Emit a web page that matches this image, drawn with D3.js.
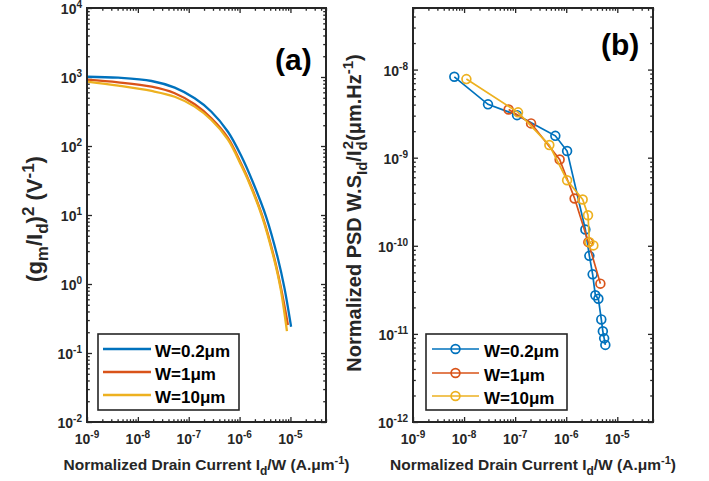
<!DOCTYPE html>
<html><head><meta charset="utf-8">
<script src="https://cdn.jsdelivr.net/npm/d3@7"></script>
<style>
body{margin:0;background:#fff}
text{font-family:"Liberation Sans",Arial,Helvetica,sans-serif;font-weight:bold;fill:#262626}
</style>
</head><body>
<svg id="c" width="709" height="481"></svg>
<script>
// ---------- data ----------
const seriesNames = ["W=0.2μm", "W=1μm", "W=10μm"];
const seriesColors = ["#0072BD", "#D95319", "#EDB120"];

// Panel (a): (gm/Id)^2 vs Id/W
const aX_W02 = [1e-9, 4.11e-9, 1.86e-8, 5.31e-8, 1.31e-7, 2.79e-7, 5.90e-7, 1.08e-6, 1.82e-6, 3.34e-6, 5.64e-6, 7.62e-6, 1.03e-5];
const aY_W02 = [1009, 977, 875, 700, 491, 314, 161, 71.6, 30.1, 9.35, 2.38, 0.875, 0.240];
const aX_W1  = [1e-9, 4.11e-9, 1.86e-8, 5.31e-8, 1.31e-7, 2.79e-7, 5.90e-7, 1.08e-6, 1.56e-6, 2.85e-6, 4.81e-6, 6.52e-6, 8.93e-6];
const aY_W1  = [914, 837, 723, 581, 402, 252, 131, 54.8, 30.1, 9.35, 2.38, 0.875, 0.255];
const aX_W10 = [1e-9, 4.11e-9, 1.86e-8, 5.31e-8, 1.31e-7, 2.79e-7, 5.90e-7, 1.08e-6, 1.52e-6, 2.79e-6, 4.71e-6, 6.37e-6, 8.53e-6];
const aY_W10 = [855, 748, 627, 518, 372, 238, 124, 52.1, 30.1, 9.35, 2.38, 0.875, 0.208];

// Panel (b): normalized PSD vs Id/W
const bX_W02 = [6.44e-9, 2.94e-8, 1.09e-7, 6.12e-7, 1.04e-6, 2.37e-6, 2.84e-6, 3.29e-6, 3.72e-6, 4.26e-6, 4.86e-6, 5.21e-6, 5.53e-6, 5.83e-6];
const bY_W02 = [8.28e-9, 4.03e-9, 3.04e-9, 1.77e-9, 1.19e-9, 1.53e-10, 7.69e-11, 4.74e-11, 2.74e-11, 2.51e-11, 1.46e-11, 1.07e-11, 8.9e-12, 7.5e-12];
const bX_W1  = [7.45e-8, 2.05e-7, 7.43e-7, 1.46e-6, 2.71e-6, 4.66e-6];
const bY_W1  = [3.53e-9, 2.45e-9, 9.55e-10, 3.44e-10, 1.10e-10, 3.72e-11];
const bX_W10 = [1.11e-8, 1.14e-7, 4.67e-7, 1.04e-6, 2.10e-6, 2.67e-6, 2.84e-6, 3.40e-6];
const bY_W10 = [7.80e-9, 3.27e-9, 1.39e-9, 5.55e-10, 3.35e-10, 2.22e-10, 1.10e-10, 1.01e-10];

const xDomain = [1e-9, 5e-5];
const aYDomain = [1e-2, 1e4];
const bYDomain = [1e-12, 5e-8];

// ---------- drawing ----------
const svg = d3.select("#c");
const axisColor = "#262626";

function supLabel(g, x, y, exp, anchor, size, supSize, supDy) {
  const t = g.append("text").attr("x", x).attr("y", y)
    .attr("text-anchor", anchor).style("font-size", size + "px");
  t.append("tspan").text("10");
  t.append("tspan").attr("dy", supDy).style("font-size", supSize + "px").text(exp);
}

function drawPanel(cfg) {
  const g = svg.append("g");
  const x = d3.scaleLog().domain(xDomain).range([cfg.x0, cfg.x1]);
  const y = d3.scaleLog().domain(cfg.yDomain).range([cfg.y1, cfg.y0]);

  const isMajor = v => Math.abs(Math.log10(v) - Math.round(Math.log10(v))) < 1e-6;
  const xt = x.ticks(); const yt = y.ticks();
  const xMaj = xt.filter(isMajor), xMin = xt.filter(v => !isMajor(v));
  const yMaj = yt.filter(isMajor), yMin = yt.filter(v => !isMajor(v));

  const axes = [
    [d3.axisBottom(x), `translate(0,${cfg.y1})`, xMaj, xMin],
    [d3.axisTop(x), `translate(0,${cfg.y0})`, xMaj, xMin],
    [d3.axisLeft(y), `translate(${cfg.x0},0)`, yMaj, yMin],
    [d3.axisRight(y), `translate(${cfg.x1},0)`, yMaj, yMin]
  ];
  axes.forEach(([ax, tr, maj, min]) => {
    const a1 = g.append("g").attr("transform", tr)
      .call(ax.tickValues(maj).tickSize(-5).tickFormat(""));
    const a2 = g.append("g").attr("transform", tr)
      .call(ax.tickValues(min).tickSize(-2.8).tickFormat(""));
    [a1, a2].forEach(a => {
      a.select(".domain").remove();
      a.selectAll("line").attr("stroke", axisColor).attr("stroke-width", 1.3);
    });
  });

  // series
  cfg.series.forEach((s, i) => {
    const pts = s.xs.map((v, j) => [x(v), y(s.ys[j])]);
    g.append("path").datum(pts)
      .attr("d", d3.line().curve(cfg.markers ? d3.curveLinear : d3.curveCatmullRom.alpha(0.5)))
      .attr("fill", "none").attr("stroke", seriesColors[i])
      .attr("stroke-width", cfg.markers ? 1.7 : 2.3);
    if (cfg.markers) {
      g.selectAll(null).data(pts).enter().append("circle")
        .attr("cx", d => d[0]).attr("cy", d => d[1]).attr("r", 4.4)
        .attr("fill", "none").attr("stroke", seriesColors[i]).attr("stroke-width", 1.7);
    }
  });

  // frame
  g.append("rect").attr("x", cfg.x0).attr("y", cfg.y0)
    .attr("width", cfg.x1 - cfg.x0).attr("height", cfg.y1 - cfg.y0)
    .attr("fill", "none").attr("stroke", axisColor).attr("stroke-width", 2);

  // tick labels
  xMaj.forEach(v => {
    supLabel(g, x(v), cfg.y1 + 22, String(Math.round(Math.log10(v))), "middle", 14, 10, -6);
  });
  yMaj.forEach(v => {
    supLabel(g, cfg.x0 - 5, y(v) + 6, String(Math.round(Math.log10(v))), "end", 14, 10, -6);
  });

  // x label
  const xl = g.append("text").attr("x", (cfg.x0 + cfg.x1) / 2).attr("y", 470)
    .attr("text-anchor", "middle").style("font-size", "15.5px");
  xl.append("tspan").text("Normalized Drain Current I");
  xl.append("tspan").attr("dy", 5).style("font-size", "12px").text("d");
  xl.append("tspan").attr("dy", -5).text("/W (A.μm");
  xl.append("tspan").attr("dy", -6).style("font-size", "11px").text("-1");
  xl.append("tspan").attr("dy", 6).text(")");

  // y label
  const yl = g.append("text")
    .attr("transform", `translate(${cfg.ylx},${cfg.yly}) rotate(-90)`)
    .attr("text-anchor", "middle").style("font-size", cfg.ylSize + "px");
  cfg.ylParts.forEach(p => {
    const t = yl.append("tspan").text(p.t);
    if (p.dy) t.attr("dy", p.dy);
    if (p.dx) t.attr("dx", p.dx);
    if (p.s) t.style("font-size", p.s + "px");
  });

  // panel tag
  g.append("text").attr("x", cfg.tagX).attr("y", cfg.tagY)
    .style("font-size", "30px").style("fill", "#000").text(cfg.tag);

  // legend
  const L = cfg.legend;
  g.append("rect").attr("x", L.x).attr("y", L.y).attr("width", L.w).attr("height", L.h)
    .attr("fill", "#fff").attr("stroke", axisColor).attr("stroke-width", 1.6);
  seriesNames.forEach((name, i) => {
    const ly = L.rowY[i];
    g.append("line").attr("x1", L.lx1).attr("x2", L.lx2).attr("y1", ly).attr("y2", ly)
      .attr("stroke", seriesColors[i]).attr("stroke-width", cfg.markers ? 1.7 : 2.3);
    if (cfg.markers) {
      g.append("circle").attr("cx", (L.lx1 + L.lx2) / 2).attr("cy", ly).attr("r", 4.4)
        .attr("fill", "none").attr("stroke", seriesColors[i]).attr("stroke-width", 1.7);
    }
    g.append("text").attr("x", L.tx).attr("y", ly + 7.5)
      .style("font-size", "17px").style("fill", "#000").text(name);
  });
}

drawPanel({
  x0: 87, x1: 326, y0: 8, y1: 422, yDomain: aYDomain, markers: false,
  series: [{xs: aX_W02, ys: aY_W02}, {xs: aX_W1, ys: aY_W1}, {xs: aX_W10, ys: aY_W10}],
  ylx: 42, yly: 219, ylSize: 22,
  ylParts: [{t: "(g"}, {t: "m", dy: 6, s: 17}, {t: "/I", dy: -6}, {t: "d", dy: 6, s: 17},
            {t: ")", dy: -6}, {t: "2", dy: -8, s: 17}, {t: " (V", dy: 8}, {t: "-1", dy: -8, s: 17}, {t: ")", dy: 8}],
  tag: "(a)", tagX: 275, tagY: 70,
  legend: {x: 98, y: 334, w: 141, h: 76, lx1: 103, lx2: 151, tx: 155, rowY: [349, 372, 395]}
});

drawPanel({
  x0: 413, x1: 653, y0: 8, y1: 422, yDomain: bYDomain, markers: true,
  series: [{xs: bX_W02, ys: bY_W02}, {xs: bX_W1, ys: bY_W1}, {xs: bX_W10, ys: bY_W10}],
  ylx: 361, yly: 213, ylSize: 20,
  ylParts: [{t: "Normalized PSD W.S"}, {t: "Id", dy: 6, s: 15}, {t: "/I", dy: -6},
            {t: "d", dy: 6, s: 15}, {t: "2", dy: -14, dx: -8, s: 15}, {t: "(μm.Hz", dy: 8},
            {t: "-1", dy: -8, s: 15}, {t: ")", dy: 8}],
  tag: "(b)", tagX: 601, tagY: 55,
  legend: {x: 426, y: 334, w: 141, h: 76, lx1: 432, lx2: 479, tx: 484, rowY: [349, 373, 396]}
});
</script>
</body></html>
